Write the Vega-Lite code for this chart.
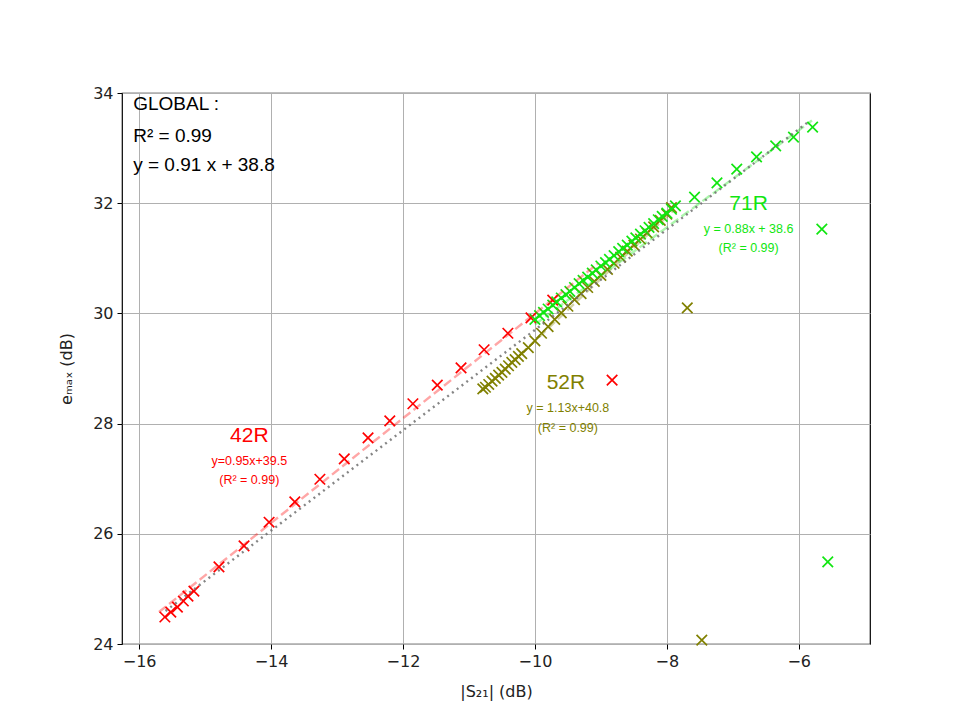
{
  "$schema": "https://vega.github.io/schema/vega-lite/v6.json",
  "width": 748,
  "height": 551,
  "autosize": "none",
  "padding": {"left": 122, "top": 93, "right": 87, "bottom": 76},
  "background": "white",
  "config": {
    "view": {"stroke": "#000000", "strokeWidth": 1.2},
    "axis": {
      "labelFont": "DejaVu Sans",
      "labelFontSize": 16,
      "labelColor": "#222222",
      "titleFont": "DejaVu Sans",
      "titleFontSize": 16,
      "titleFontWeight": "normal",
      "titleColor": "#222222",
      "tickColor": "#000000",
      "tickSize": 5,
      "domain": false,
      "gridColor": "#b0b0b0",
      "gridWidth": 1,
      "labelPadding": 4
    }
  },
  "datasets": {
    "points": [
      {"series": "42R", "s21": -15.61, "emax": 24.49},
      {"series": "42R", "s21": -15.52, "emax": 24.58},
      {"series": "42R", "s21": -15.42, "emax": 24.67},
      {"series": "42R", "s21": -15.33, "emax": 24.78},
      {"series": "42R", "s21": -15.26, "emax": 24.87},
      {"series": "42R", "s21": -15.17, "emax": 24.96},
      {"series": "42R", "s21": -14.79, "emax": 25.40},
      {"series": "42R", "s21": -14.41, "emax": 25.78},
      {"series": "42R", "s21": -14.03, "emax": 26.21},
      {"series": "42R", "s21": -13.64, "emax": 26.58},
      {"series": "42R", "s21": -13.26, "emax": 26.99},
      {"series": "42R", "s21": -12.89, "emax": 27.36},
      {"series": "42R", "s21": -12.53, "emax": 27.74},
      {"series": "42R", "s21": -12.20, "emax": 28.05},
      {"series": "42R", "s21": -11.85, "emax": 28.36},
      {"series": "42R", "s21": -11.48, "emax": 28.70},
      {"series": "42R", "s21": -11.12, "emax": 29.01},
      {"series": "42R", "s21": -10.77, "emax": 29.34},
      {"series": "42R", "s21": -10.41, "emax": 29.64},
      {"series": "42R", "s21": -10.06, "emax": 29.92},
      {"series": "42R", "s21": -9.73, "emax": 30.24},
      {"series": "42R", "s21": -8.83, "emax": 28.79},

      {"series": "52R", "s21": -10.79, "emax": 28.63},
      {"series": "52R", "s21": -10.75, "emax": 28.66},
      {"series": "52R", "s21": -10.70, "emax": 28.71},
      {"series": "52R", "s21": -10.65, "emax": 28.77},
      {"series": "52R", "s21": -10.60, "emax": 28.82},
      {"series": "52R", "s21": -10.55, "emax": 28.88},
      {"series": "52R", "s21": -10.50, "emax": 28.93},
      {"series": "52R", "s21": -10.45, "emax": 28.99},
      {"series": "52R", "s21": -10.40, "emax": 29.05},
      {"series": "52R", "s21": -10.35, "emax": 29.11},
      {"series": "52R", "s21": -10.30, "emax": 29.16},
      {"series": "52R", "s21": -10.25, "emax": 29.22},
      {"series": "52R", "s21": -10.20, "emax": 29.27},
      {"series": "52R", "s21": -10.10, "emax": 29.38},
      {"series": "52R", "s21": -10.00, "emax": 29.50},
      {"series": "52R", "s21": -9.90, "emax": 29.64},
      {"series": "52R", "s21": -9.80, "emax": 29.76},
      {"series": "52R", "s21": -9.70, "emax": 29.89},
      {"series": "52R", "s21": -9.60, "emax": 30.01},
      {"series": "52R", "s21": -9.50, "emax": 30.13},
      {"series": "52R", "s21": -9.40, "emax": 30.25},
      {"series": "52R", "s21": -9.30, "emax": 30.36},
      {"series": "52R", "s21": -9.20, "emax": 30.47},
      {"series": "52R", "s21": -9.10, "emax": 30.58},
      {"series": "52R", "s21": -9.00, "emax": 30.69},
      {"series": "52R", "s21": -8.90, "emax": 30.80},
      {"series": "52R", "s21": -8.80, "emax": 30.91},
      {"series": "52R", "s21": -8.70, "emax": 31.02},
      {"series": "52R", "s21": -8.60, "emax": 31.13},
      {"series": "52R", "s21": -8.50, "emax": 31.24},
      {"series": "52R", "s21": -8.40, "emax": 31.35},
      {"series": "52R", "s21": -8.30, "emax": 31.46},
      {"series": "52R", "s21": -8.20, "emax": 31.57},
      {"series": "52R", "s21": -8.10, "emax": 31.69},
      {"series": "52R", "s21": -8.00, "emax": 31.80},
      {"series": "52R", "s21": -7.93, "emax": 31.92},
      {"series": "52R", "s21": -7.69, "emax": 30.10},
      {"series": "52R", "s21": -7.47, "emax": 24.07},

      {"series": "71R", "s21": -10.00, "emax": 29.89},
      {"series": "71R", "s21": -9.93, "emax": 29.96},
      {"series": "71R", "s21": -9.87, "emax": 30.02},
      {"series": "71R", "s21": -9.80, "emax": 30.08},
      {"series": "71R", "s21": -9.73, "emax": 30.15},
      {"series": "71R", "s21": -9.67, "emax": 30.21},
      {"series": "71R", "s21": -9.60, "emax": 30.28},
      {"series": "71R", "s21": -9.53, "emax": 30.34},
      {"series": "71R", "s21": -9.47, "emax": 30.40},
      {"series": "71R", "s21": -9.40, "emax": 30.47},
      {"series": "71R", "s21": -9.33, "emax": 30.54},
      {"series": "71R", "s21": -9.27, "emax": 30.60},
      {"series": "71R", "s21": -9.20, "emax": 30.66},
      {"series": "71R", "s21": -9.13, "emax": 30.73},
      {"series": "71R", "s21": -9.07, "emax": 30.79},
      {"series": "71R", "s21": -9.00, "emax": 30.86},
      {"series": "71R", "s21": -8.93, "emax": 30.92},
      {"series": "71R", "s21": -8.87, "emax": 30.98},
      {"series": "71R", "s21": -8.80, "emax": 31.05},
      {"series": "71R", "s21": -8.73, "emax": 31.12},
      {"series": "71R", "s21": -8.67, "emax": 31.18},
      {"series": "71R", "s21": -8.60, "emax": 31.24},
      {"series": "71R", "s21": -8.53, "emax": 31.31},
      {"series": "71R", "s21": -8.47, "emax": 31.37},
      {"series": "71R", "s21": -8.40, "emax": 31.44},
      {"series": "71R", "s21": -8.33, "emax": 31.50},
      {"series": "71R", "s21": -8.27, "emax": 31.56},
      {"series": "71R", "s21": -8.20, "emax": 31.63},
      {"series": "71R", "s21": -8.13, "emax": 31.70},
      {"series": "71R", "s21": -8.07, "emax": 31.76},
      {"series": "71R", "s21": -8.00, "emax": 31.82},
      {"series": "71R", "s21": -7.93, "emax": 31.89},
      {"series": "71R", "s21": -7.87, "emax": 31.95},
      {"series": "71R", "s21": -7.58, "emax": 32.11},
      {"series": "71R", "s21": -7.24, "emax": 32.37},
      {"series": "71R", "s21": -6.94, "emax": 32.62},
      {"series": "71R", "s21": -6.64, "emax": 32.84},
      {"series": "71R", "s21": -6.35, "emax": 33.04},
      {"series": "71R", "s21": -6.08, "emax": 33.20},
      {"series": "71R", "s21": -5.79, "emax": 33.38},
      {"series": "71R", "s21": -5.65, "emax": 31.53},
      {"series": "71R", "s21": -5.56, "emax": 25.49}
    ],
    "fits": [
      {"series": "42R", "s21": -15.70, "emax": 24.58},
      {"series": "42R", "s21": -9.05, "emax": 30.90},
      {"series": "52R", "s21": -10.80, "emax": 28.60},
      {"series": "52R", "s21": -7.90, "emax": 31.87},
      {"series": "71R", "s21": -10.00, "emax": 29.80},
      {"series": "71R", "s21": -5.80, "emax": 33.50},
      {"series": "GLOBAL", "s21": -15.60, "emax": 24.60},
      {"series": "GLOBAL", "s21": -5.85, "emax": 33.48}
    ],
    "labels": [
      {"series": "42R", "role": "title", "s21": -14.33, "emax": 27.77, "text": "42R"},
      {"series": "42R", "role": "sub", "s21": -14.33, "emax": 27.32, "text": "y=0.95x+39.5"},
      {"series": "42R", "role": "sub", "s21": -14.33, "emax": 26.98, "text": "(R² = 0.99)"},
      {"series": "52R", "role": "title", "s21": -9.53, "emax": 28.74, "text": "52R"},
      {"series": "52R", "role": "sub", "s21": -9.50, "emax": 28.28, "text": "y = 1.13x+40.8"},
      {"series": "52R", "role": "sub", "s21": -9.50, "emax": 27.92, "text": "(R² = 0.99)"},
      {"series": "71R", "role": "title", "s21": -6.76, "emax": 31.99, "text": "71R"},
      {"series": "71R", "role": "sub", "s21": -6.76, "emax": 31.53, "text": "y = 0.88x + 38.6"},
      {"series": "71R", "role": "sub", "s21": -6.76, "emax": 31.19, "text": "(R² = 0.99)"},
      {"series": "GLOBAL", "role": "global", "s21": -16.09, "emax": 33.80, "text": "GLOBAL :"},
      {"series": "GLOBAL", "role": "global", "s21": -16.09, "emax": 33.22, "text": "R² = 0.99"},
      {"series": "GLOBAL", "role": "global", "s21": -16.09, "emax": 32.69, "text": "y = 0.91 x + 38.8"}
    ]
  },
  "encoding": {
    "x": {
      "field": "s21", "type": "quantitative",
      "scale": {"domain": [-16.26, -4.92], "nice": false, "zero": false},
      "axis": {"values": [-16, -14, -12, -10, -8, -6], "title": "|S₂₁| (dB)", "titlePadding": 14, "format": "d", "labelExpr": "replace(datum.label, '-', '−')"}
    },
    "y": {
      "field": "emax", "type": "quantitative",
      "scale": {"domain": [24, 34], "nice": false, "zero": false},
      "axis": {"values": [24, 26, 28, 30, 32, 34], "title": "eₘₐₓ (dB)", "titlePadding": 18}
    },
    "color": {
      "field": "series", "type": "nominal",
      "scale": {"domain": ["42R", "52R", "71R", "GLOBAL"], "range": ["#ff0000", "#808000", "#11e611", "#000000"]},
      "legend": null
    }
  },
  "layer": [
    {
      "data": {"name": "points"},
      "mark": {"type": "point", "shape": "M-1,-1L1,1M-1,1L1,-1", "filled": false, "strokeWidth": 1.7, "size": 110, "opacity": 1}
    },
    {
      "data": {"name": "fits"},
      "transform": [{"filter": "datum.series !== 'GLOBAL'"}],
      "mark": {"type": "line", "strokeDash": [9, 4], "strokeWidth": 2.4, "opacity": 0.35},
      "encoding": {"detail": {"field": "series"}}
    },
    {
      "data": {"name": "fits"},
      "transform": [{"filter": "datum.series === 'GLOBAL'"}],
      "mark": {"type": "line", "strokeDash": [2, 4], "strokeWidth": 2.4, "opacity": 0.85},
      "encoding": {"color": {"value": "#707070"}}
    },
    {
      "data": {"name": "labels"},
      "transform": [{"filter": "datum.role === 'title'"}],
      "mark": {"type": "text", "font": "Liberation Sans", "fontSize": 21, "align": "center", "baseline": "middle"},
      "encoding": {"text": {"field": "text"}}
    },
    {
      "data": {"name": "labels"},
      "transform": [{"filter": "datum.role === 'sub'"}],
      "mark": {"type": "text", "font": "Liberation Sans", "fontSize": 12.5, "align": "center", "baseline": "middle"},
      "encoding": {"text": {"field": "text"}}
    },
    {
      "data": {"name": "labels"},
      "transform": [{"filter": "datum.role === 'global'"}],
      "mark": {"type": "text", "font": "Liberation Sans", "fontSize": 19, "align": "left", "baseline": "middle"},
      "encoding": {"text": {"field": "text"}}
    }
  ]
}
